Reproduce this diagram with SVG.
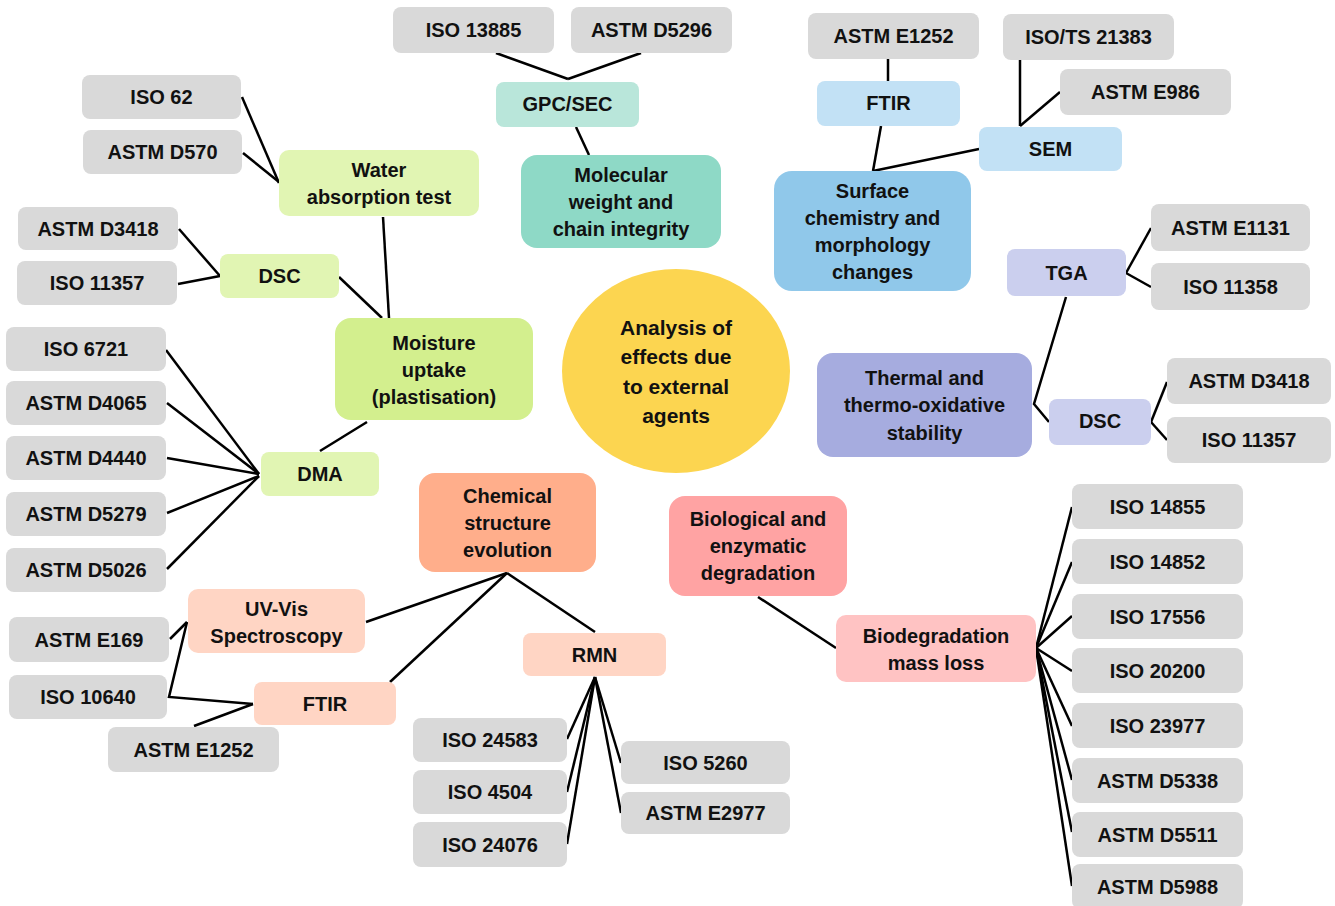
<svg xmlns="http://www.w3.org/2000/svg" width="1335" height="906" viewBox="0 0 1335 906">
  <style>
    text { font-family: "Liberation Sans", Arial, sans-serif; font-weight: bold; font-size: 20px; fill: #111; text-anchor: middle; }
    .hub text { font-size: 21px; }
    .std rect { fill: #d9d9d9; }
    .lime rect { fill: #e1f5b3; }
    .lime-d rect { fill: #d3ef8e; }
    .teal rect { fill: #b9e6da; }
    .teal-d rect { fill: #8ed9c6; }
    .sky rect { fill: #c2e1f5; }
    .sky-d rect { fill: #90c8ea; }
    .lav rect { fill: #cbcfee; }
    .lav-d rect { fill: #a6acdf; }
    .peach rect { fill: #ffd5c4; }
    .peach-d rect { fill: #ffae8b; }
    .rose rect { fill: #ffc3c3; }
    .rose-d rect { fill: #ffa3a3; }
    #connectors line, #connectors polyline { stroke: #000; stroke-width: 2.5; fill: none; }
  </style>
  <rect width="1335" height="906" fill="#fff"/>

  <g id="connectors">
    <!-- moisture uptake branch -->
    <line x1="242" y1="97" x2="279" y2="183"/>
    <line x1="243" y1="153" x2="279" y2="182"/>
    <line x1="179" y1="229" x2="220" y2="276"/>
    <line x1="178" y1="284" x2="220" y2="276"/>
    <line x1="339" y1="277" x2="382" y2="318"/>
    <line x1="383" y1="217" x2="389" y2="318"/>
    <line x1="166" y1="350" x2="259" y2="474"/>
    <line x1="167" y1="403" x2="259" y2="474"/>
    <line x1="167" y1="458" x2="259" y2="474"/>
    <line x1="167" y1="513" x2="259" y2="476"/>
    <line x1="167" y1="569" x2="259" y2="476"/>
    <line x1="320" y1="451" x2="367" y2="422"/>
    <!-- molecular weight branch -->
    <line x1="496" y1="53" x2="568" y2="79"/>
    <line x1="641" y1="53" x2="568" y2="79"/>
    <line x1="576" y1="127" x2="589" y2="155"/>
    <!-- surface branch -->
    <line x1="888" y1="59" x2="888" y2="81"/>
    <line x1="881" y1="126" x2="873" y2="171"/>
    <line x1="873" y1="171" x2="979" y2="149"/>
    <line x1="1020" y1="60" x2="1020" y2="126"/>
    <line x1="1060" y1="92" x2="1020" y2="126"/>
    <!-- thermal branch -->
    <line x1="1126" y1="273" x2="1151" y2="228"/>
    <line x1="1126" y1="273" x2="1151" y2="287"/>
    <polyline points="1066,297 1034,404 1049,422"/>
    <line x1="1151" y1="422" x2="1167" y2="382"/>
    <line x1="1151" y1="422" x2="1167" y2="440"/>
    <!-- chemical structure branch -->
    <line x1="170" y1="639" x2="187" y2="622"/>
    <polyline points="187,622 169,697 253,704"/>
    <line x1="194" y1="726" x2="253" y2="704"/>
    <line x1="507" y1="573" x2="366" y2="622"/>
    <line x1="507" y1="573" x2="390" y2="682"/>
    <line x1="507" y1="573" x2="595" y2="632"/>
    <line x1="595" y1="677" x2="567" y2="739"/>
    <line x1="595" y1="677" x2="567" y2="792"/>
    <line x1="595" y1="677" x2="567" y2="844"/>
    <line x1="595" y1="677" x2="621" y2="763"/>
    <line x1="595" y1="677" x2="621" y2="813"/>
    <!-- biological branch -->
    <line x1="758" y1="597" x2="836" y2="648"/>
    <line x1="1036" y1="648" x2="1072" y2="507"/>
    <line x1="1036" y1="648" x2="1072" y2="562"/>
    <line x1="1036" y1="648" x2="1072" y2="616"/>
    <line x1="1036" y1="648" x2="1072" y2="671"/>
    <line x1="1036" y1="648" x2="1072" y2="726"/>
    <line x1="1036" y1="648" x2="1072" y2="780"/>
    <line x1="1036" y1="648" x2="1072" y2="832"/>
    <line x1="1036" y1="648" x2="1072" y2="886"/>
  </g>

  <!-- central hub -->
  <g id="hub" class="hub">
    <ellipse cx="676" cy="371" rx="114" ry="102" fill="#fcd550"/>
    <text x="676" y="335">Analysis of</text>
    <text x="676" y="364">effects due</text>
    <text x="676" y="394">to external</text>
    <text x="676" y="423">agents</text>
  </g>

  <!-- moisture uptake -->
  <g id="water" class="lime"><rect x="279" y="150" width="200" height="66" rx="10"/><text x="379" y="177">Water</text><text x="379" y="204">absorption test</text></g>
  <g id="dsc-left" class="lime"><rect x="220" y="254" width="119" height="44" rx="8"/><text x="279.5" y="283">DSC</text></g>
  <g id="moisture" class="lime-d"><rect x="335" y="318" width="198" height="102" rx="16"/><text x="434" y="350">Moisture</text><text x="434" y="377">uptake</text><text x="434" y="404">(plastisation)</text></g>
  <g id="dma" class="lime"><rect x="261" y="452" width="118" height="44" rx="8"/><text x="320" y="481">DMA</text></g>
  <g id="iso62" class="std"><rect x="82" y="75" width="159" height="44" rx="8"/><text x="161.5" y="104">ISO 62</text></g>
  <g id="astm-d570" class="std"><rect x="83" y="130" width="159" height="44" rx="8"/><text x="162.5" y="159">ASTM D570</text></g>
  <g id="astm-d3418-left" class="std"><rect x="18" y="207" width="160" height="43" rx="8"/><text x="98" y="235.5">ASTM D3418</text></g>
  <g id="iso11357-left" class="std"><rect x="17" y="261" width="160" height="44" rx="8"/><text x="97" y="290">ISO 11357</text></g>
  <g id="iso6721" class="std"><rect x="6" y="327" width="160" height="44" rx="8"/><text x="86" y="356">ISO 6721</text></g>
  <g id="astm-d4065" class="std"><rect x="6" y="381" width="160" height="44" rx="8"/><text x="86" y="410">ASTM D4065</text></g>
  <g id="astm-d4440" class="std"><rect x="6" y="436" width="160" height="44" rx="8"/><text x="86" y="465">ASTM D4440</text></g>
  <g id="astm-d5279" class="std"><rect x="6" y="492" width="160" height="44" rx="8"/><text x="86" y="521">ASTM D5279</text></g>
  <g id="astm-d5026" class="std"><rect x="6" y="548" width="160" height="44" rx="8"/><text x="86" y="577">ASTM D5026</text></g>

  <!-- molecular weight -->
  <g id="iso13885" class="std"><rect x="393" y="7" width="161" height="46" rx="8"/><text x="473.5" y="37">ISO 13885</text></g>
  <g id="astm-d5296" class="std"><rect x="571" y="7" width="161" height="46" rx="8"/><text x="651.5" y="37">ASTM D5296</text></g>
  <g id="gpc-sec" class="teal"><rect x="496" y="82" width="143" height="45" rx="8"/><text x="567.5" y="111">GPC/SEC</text></g>
  <g id="molecular" class="teal-d"><rect x="521" y="155" width="200" height="93" rx="16"/><text x="621" y="182">Molecular</text><text x="621" y="209">weight and</text><text x="621" y="236">chain integrity</text></g>

  <!-- surface chemistry -->
  <g id="astm-e1252-top" class="std"><rect x="808" y="13" width="171" height="46" rx="8"/><text x="893.5" y="43">ASTM E1252</text></g>
  <g id="iso-ts21383" class="std"><rect x="1003" y="14" width="171" height="46" rx="8"/><text x="1088.5" y="44">ISO/TS 21383</text></g>
  <g id="astm-e986" class="std"><rect x="1060" y="69" width="171" height="46" rx="8"/><text x="1145.5" y="99">ASTM E986</text></g>
  <g id="ftir-top" class="sky"><rect x="817" y="81" width="143" height="45" rx="8"/><text x="888.5" y="110">FTIR</text></g>
  <g id="sem" class="sky"><rect x="979" y="127" width="143" height="44" rx="8"/><text x="1050.5" y="156">SEM</text></g>
  <g id="surface" class="sky-d"><rect x="774" y="171" width="197" height="120" rx="18"/><text x="872.5" y="198">Surface</text><text x="872.5" y="225">chemistry and</text><text x="872.5" y="252">morphology</text><text x="872.5" y="279">changes</text></g>

  <!-- thermal stability -->
  <g id="tga" class="lav"><rect x="1007" y="249" width="119" height="47" rx="8"/><text x="1066.5" y="280">TGA</text></g>
  <g id="astm-e1131" class="std"><rect x="1151" y="204" width="159" height="47" rx="8"/><text x="1230.5" y="234.5">ASTM E1131</text></g>
  <g id="iso11358" class="std"><rect x="1151" y="263" width="159" height="47" rx="8"/><text x="1230.5" y="293.5">ISO 11358</text></g>
  <g id="thermal" class="lav-d"><rect x="817" y="353" width="215" height="104" rx="16"/><text x="924.5" y="385">Thermal and</text><text x="924.5" y="412">thermo-oxidative</text><text x="924.5" y="440">stability</text></g>
  <g id="dsc-right" class="lav"><rect x="1049" y="399" width="102" height="46" rx="8"/><text x="1100" y="428">DSC</text></g>
  <g id="astm-d3418-right" class="std"><rect x="1167" y="358" width="164" height="46" rx="8"/><text x="1249" y="388">ASTM D3418</text></g>
  <g id="iso11357-right" class="std"><rect x="1167" y="417" width="164" height="46" rx="8"/><text x="1249" y="447">ISO 11357</text></g>

  <!-- chemical structure -->
  <g id="chemical" class="peach-d"><rect x="419" y="473" width="177" height="99" rx="16"/><text x="507.5" y="503">Chemical</text><text x="507.5" y="530">structure</text><text x="507.5" y="557">evolution</text></g>
  <g id="uv-vis" class="peach"><rect x="188" y="589" width="177" height="64" rx="10"/><text x="276.5" y="616">UV-Vis</text><text x="276.5" y="643">Spectroscopy</text></g>
  <g id="ftir-bottom" class="peach"><rect x="254" y="682" width="142" height="43" rx="8"/><text x="325" y="711">FTIR</text></g>
  <g id="rmn" class="peach"><rect x="523" y="633" width="143" height="43" rx="8"/><text x="594.5" y="662">RMN</text></g>
  <g id="astm-e169" class="std"><rect x="9" y="617" width="160" height="45" rx="8"/><text x="89" y="646.5">ASTM E169</text></g>
  <g id="iso10640" class="std"><rect x="9" y="675" width="158" height="44" rx="8"/><text x="88" y="704">ISO 10640</text></g>
  <g id="astm-e1252-bottom" class="std"><rect x="108" y="727" width="171" height="45" rx="8"/><text x="193.5" y="756.5">ASTM E1252</text></g>
  <g id="iso24583" class="std"><rect x="413" y="718" width="154" height="44" rx="8"/><text x="490" y="747">ISO 24583</text></g>
  <g id="iso4504" class="std"><rect x="413" y="770" width="154" height="44" rx="8"/><text x="490" y="799">ISO 4504</text></g>
  <g id="iso24076" class="std"><rect x="413" y="822" width="154" height="45" rx="8"/><text x="490" y="851.5">ISO 24076</text></g>
  <g id="iso5260" class="std"><rect x="621" y="741" width="169" height="43" rx="8"/><text x="705.5" y="769.5">ISO 5260</text></g>
  <g id="astm-e2977" class="std"><rect x="621" y="792" width="169" height="42" rx="8"/><text x="705.5" y="820">ASTM E2977</text></g>

  <!-- biological degradation -->
  <g id="biological" class="rose-d"><rect x="669" y="496" width="178" height="100" rx="16"/><text x="758" y="526">Biological and</text><text x="758" y="553">enzymatic</text><text x="758" y="580">degradation</text></g>
  <g id="biodegradation" class="rose"><rect x="836" y="615" width="200" height="67" rx="10"/><text x="936" y="643">Biodegradation</text><text x="936" y="670">mass loss</text></g>
  <g id="iso14855" class="std"><rect x="1072" y="484" width="171" height="45" rx="8"/><text x="1157.5" y="513.5">ISO 14855</text></g>
  <g id="iso14852" class="std"><rect x="1072" y="539" width="171" height="45" rx="8"/><text x="1157.5" y="568.5">ISO 14852</text></g>
  <g id="iso17556" class="std"><rect x="1072" y="594" width="171" height="45" rx="8"/><text x="1157.5" y="623.5">ISO 17556</text></g>
  <g id="iso20200" class="std"><rect x="1072" y="648" width="171" height="45" rx="8"/><text x="1157.5" y="677.5">ISO 20200</text></g>
  <g id="iso23977" class="std"><rect x="1072" y="703" width="171" height="45" rx="8"/><text x="1157.5" y="732.5">ISO 23977</text></g>
  <g id="astm-d5338" class="std"><rect x="1072" y="758" width="171" height="45" rx="8"/><text x="1157.5" y="787.5">ASTM D5338</text></g>
  <g id="astm-d5511" class="std"><rect x="1072" y="812" width="171" height="45" rx="8"/><text x="1157.5" y="841.5">ASTM D5511</text></g>
  <g id="astm-d5988" class="std"><rect x="1072" y="864" width="171" height="45" rx="8"/><text x="1157.5" y="893.5">ASTM D5988</text></g>
</svg>
